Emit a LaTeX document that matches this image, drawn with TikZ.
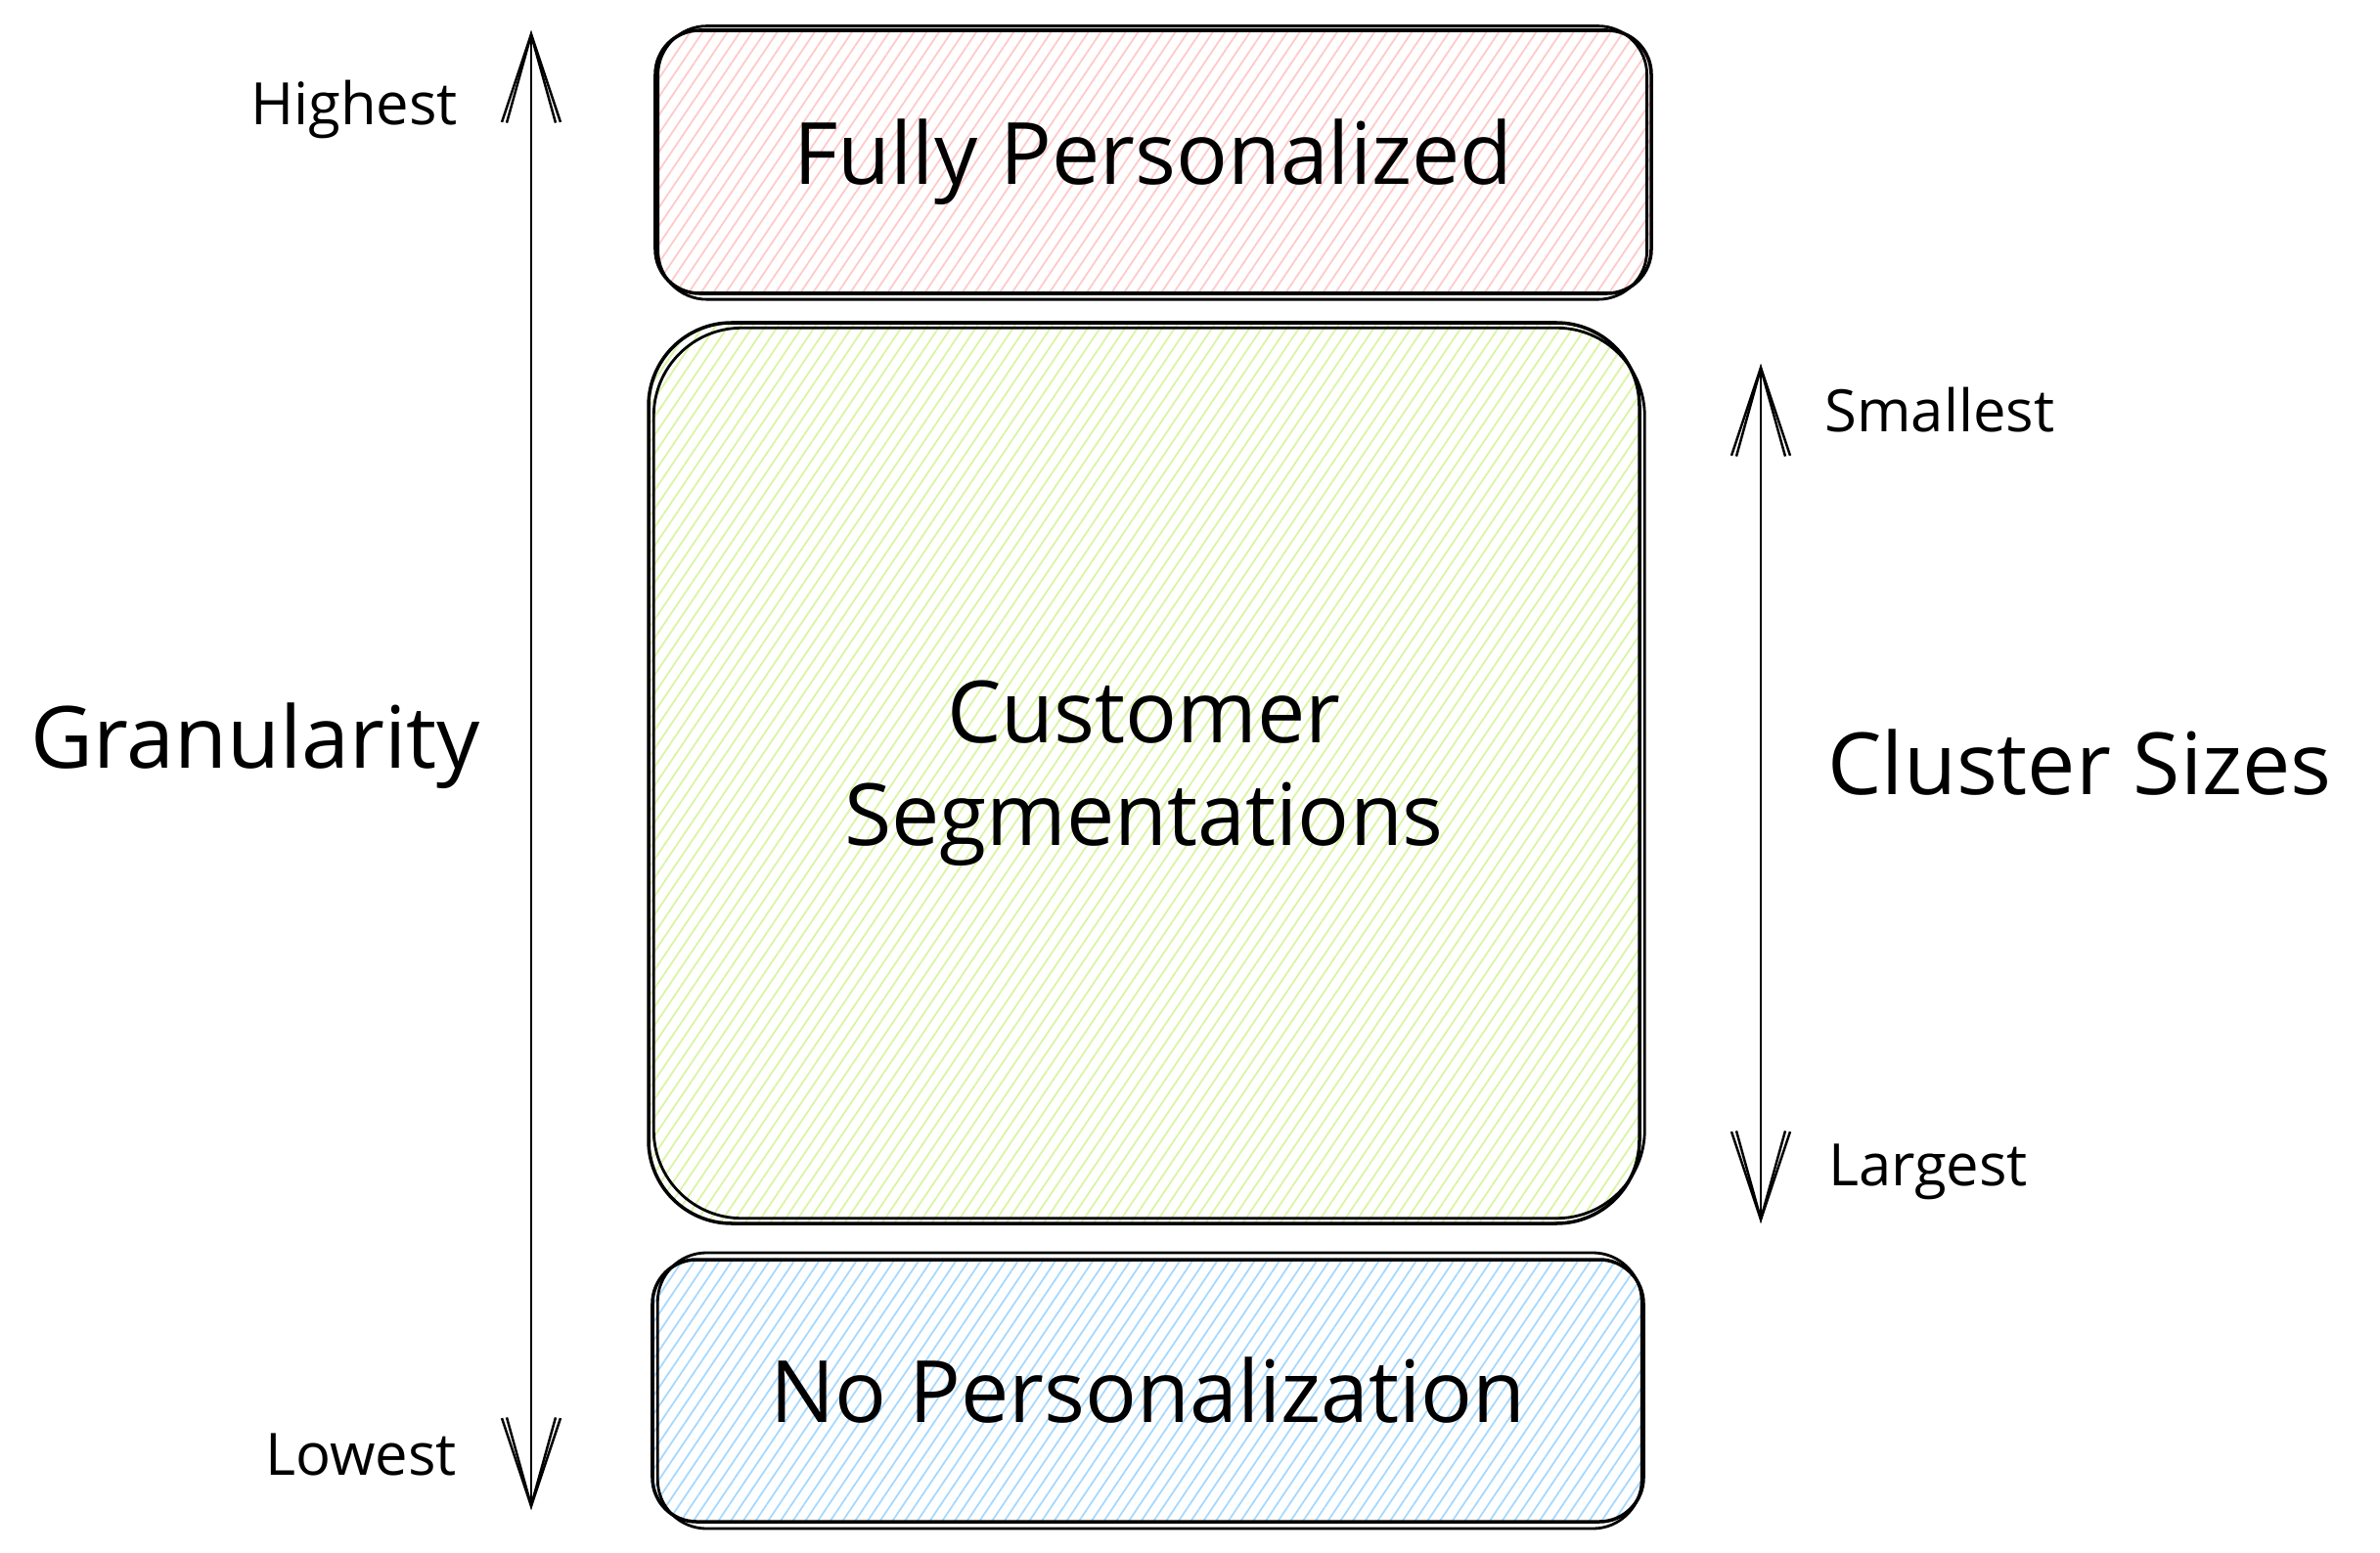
\documentclass[tikz,border=0pt]{standalone}
\usepackage{fontspec}
\setmainfont{Open Sans}
\usetikzlibrary{arrows.meta,patterns.meta}

\definecolor{hatchred}{HTML}{FFC9C9}
\definecolor{hatchgreen}{HTML}{D8F5A2}
\definecolor{hatchblue}{HTML}{A5D8FF}

\tikzset{
  sketchbox/.style={draw, line width=1pt, inner sep=0pt, align=center,
    font=\fontsize{25}{30}\selectfont},
  hatch/.style={pattern={Lines[angle=56,distance=3pt,line width=0.5pt]}, pattern color=#1},
  redo/.style={line width=0.8pt},
  bigtext/.style={font=\fontsize{25}{30}\selectfont},
  smalltext/.style={font=\fontsize{17}{20}\selectfont},
  sketcharrow/.style={line width=0.7pt,
    {Straight Barb[length=0.9cm,width=#1]}-{Straight Barb[length=0.9cm,width=#1]}},
  sketcharrow/.default=0.6cm
}

\begin{document}
\begin{tikzpicture}
  \useasboundingbox (0,0) rectangle (24.33,-15.88);

  % Boxes
  \node[sketchbox, hatch=hatchred, rounded corners=0.45cm,
        minimum width=10.18cm, minimum height=2.69cm] (full) at (11.79,-1.655) {Fully Personalized};
  \node[sketchbox, hatch=hatchgreen, rounded corners=0.85cm,
        minimum width=10.13cm, minimum height=9.21cm] (seg) at (11.695,-7.905) {Customer\\Segmentations};
  \node[sketchbox, hatch=hatchblue, rounded corners=0.45cm,
        minimum width=10.13cm, minimum height=2.68cm] (none) at (11.735,-14.22) {No Personalization};

  % second pass of the outlines
  \draw[redo, rounded corners=0.5cm] ([shift={(1pt,-1.5pt)}]full.south west) rectangle ([shift={(-1.5pt,1pt)}]full.north east);
  \draw[redo, rounded corners=0.9cm] ([shift={(2pt,2pt)}]seg.south west) rectangle ([shift={(1pt,-2pt)}]seg.north east);
  \draw[redo, rounded corners=0.5cm] ([shift={(2pt,-1.5pt)}]none.south west) rectangle ([shift={(-1pt,1.5pt)}]none.north east);

  % Granularity axis
  \coordinate (gtop) at (5.43,-0.31);
  \coordinate (gbot) at (5.43,-15.44);
  \draw[sketcharrow] (gbot) -- (gtop);
  \draw[sketcharrow=0.5cm, xshift=1.5pt] (gbot) -- (gtop);

  \node[bigtext] (gran) at (2.61,-7.63) {Granularity};
  \node[smalltext] (high) at (3.62,-1.12) {Highest};
  \node[smalltext] (low) at (3.69,-14.87) {Lowest};

  % Cluster size axis
  \coordinate (ctop) at (18.00,-3.72);
  \coordinate (cbot) at (18.00,-12.51);
  \draw[sketcharrow] (cbot) -- (ctop);
  \draw[sketcharrow=0.5cm, xshift=1.5pt] (cbot) -- (ctop);

  \node[bigtext] (size) at (21.26,-7.80) {Cluster Sizes};
  \node[smalltext] (small) at (19.83,-4.19) {Smallest};
  \node[smalltext] (large) at (19.71,-11.98) {Largest};
\end{tikzpicture}
\end{document}
